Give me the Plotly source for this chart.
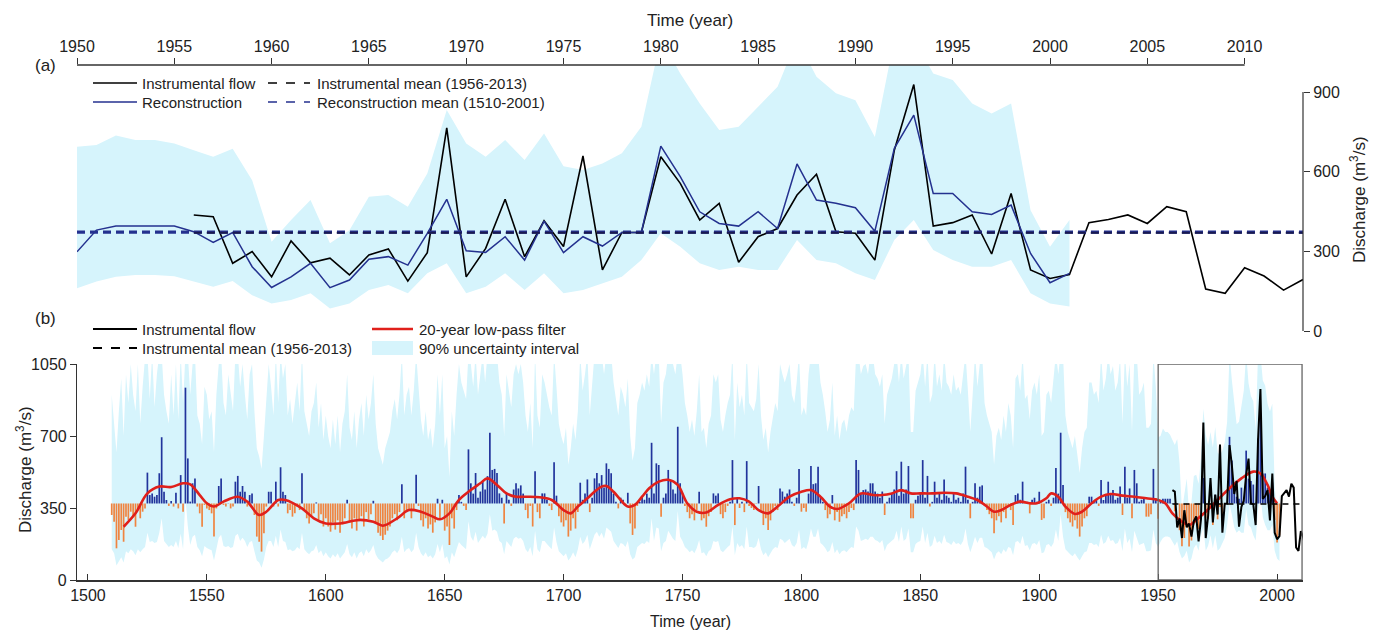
import plotly.graph_objects as go

# ---------------- data ----------------
recon_years = list(range(1510, 2002))
recon_hist = [  # 1510-1949
    316, 283, 154, 194, 243, 186, 308, 292, 332, 308,
    259, 340, 300, 332, 348, 522, 413, 421, 405, 413,
    519, 694, 429, 389, 360, 384, 357, 424, 348, 510,
    332, 935, 591, 381, 470, 494, 357, 324, 259, 365,
    348, 340, 324, 211, 348, 457, 494, 365, 357, 373,
    348, 357, 478, 506, 429, 457, 429, 357, 413, 421,
    316, 211, 186, 138, 227, 357, 429, 429, 357, 478,
    357, 548, 429, 413, 324, 340, 308, 324, 357, 340,
    519, 340, 300, 275, 308, 324, 377, 290, 320, 260,
    300, 260, 235, 280, 245, 290, 230, 270, 300, 390,
    280, 250, 300, 240, 285, 310, 260, 330, 295, 320,
    385, 280, 230, 215, 194, 220, 240, 260, 300, 320,
    290, 330, 465, 300, 330, 345, 300, 340, 512, 360,
    290, 260, 300, 250, 270, 230, 280, 395, 300, 390,
    240, 260, 170, 300, 250, 340, 413, 380, 360, 340,
    635, 470, 420, 520, 400, 430, 478, 440, 505, 716,
    535, 540, 520, 421, 400, 275, 421, 390, 360, 440,
    470, 445, 460, 420, 340, 300, 360, 260, 529, 330,
    300, 421, 421, 390, 360, 340, 572, 410, 310, 280,
    260, 290, 211, 240, 300, 250, 330, 473, 390, 420,
    489, 330, 400, 494, 520, 470, 510, 450, 567, 540,
    519, 420, 380, 348, 400, 390, 360, 424, 275, 219,
    250, 360, 380, 400, 390, 420, 400, 667, 420, 567,
    559, 308, 400, 420, 535, 486, 440, 420, 745, 470,
    420, 360, 330, 300, 320, 290, 340, 429, 290, 300,
    259, 310, 330, 421, 410, 421, 320, 300, 330, 360,
    380, 583, 267, 400, 350, 380, 330, 578, 360, 350,
    340, 370, 457, 330, 267, 300, 243, 290, 330, 360,
    340, 445, 430, 405, 420, 440, 380, 360, 400, 540,
    332, 350, 332, 420, 554, 466, 470, 551, 400, 380,
    340, 300, 320, 413, 290, 330, 283, 310, 320, 300,
    330, 350, 340, 583, 535, 420, 437, 440, 430, 470,
    470, 430, 420, 400, 430, 316, 380, 400, 420, 440,
    529, 410, 575, 420, 440, 554, 300, 300, 390, 410,
    420, 583, 400, 506, 357, 380, 478, 400, 420, 390,
    489, 410, 400, 380, 420, 390, 400, 380, 420, 551,
    390, 300, 380, 470, 400, 454, 460, 360, 340, 320,
    300, 227, 290, 310, 280, 330, 300, 360, 340, 267,
    413, 420, 390, 478, 370, 380, 324, 390, 400, 380,
    429, 292, 300, 380, 390, 360, 400, 545, 420, 716,
    462, 330, 300, 280, 260, 290, 250, 211, 260, 300,
    310, 405, 405, 380, 390, 360, 486, 389, 415, 478,
    420, 437, 390, 400, 454, 316, 551, 400, 445, 300,
    535, 470, 380, 390, 400, 308, 308, 320, 540, 397,
]
recon_recent = [  # 1950-2001
    298, 380, 395, 395, 395, 395, 374, 334, 371, 242,
    164, 204, 255, 163, 192, 270, 280, 248, 368, 496,
    302, 296, 355, 267, 414, 295, 355, 320, 371, 371,
    696, 581, 449, 405, 395, 449, 386, 629, 493, 481,
    464, 376, 688, 813, 518, 518, 449, 439, 474, 292,
    182, 217,
]
band_up_hist = [  # 1510-1949
    900, 760, 620, 820, 980, 700, 1000, 860, 1050, 900,
    820, 1050, 760, 940, 1080, 1100, 880, 1100, 840, 1000,
    1100, 1100, 900, 820, 760, 1000, 800, 1050, 780, 1100,
    860, 1100, 1100, 900, 1050, 1100, 800, 760, 660, 940,
    900, 780, 820, 620, 900, 1050, 1100, 860, 800, 1000,
    900, 820, 1100, 1100, 940, 1050, 900, 780, 1000, 1050,
    820, 640, 600, 540, 700, 900, 1050, 940, 800, 1100,
    860, 1100, 980, 1050, 800, 880, 760, 860, 960, 820,
    1100, 820, 760, 700, 820, 860, 960, 740, 860, 680,
    800, 700, 640, 780, 660, 800, 620, 760, 820, 1000,
    740, 680, 820, 640, 780, 860, 700, 900, 780, 860,
    1000, 760, 640, 600, 560, 640, 680, 720, 820, 880,
    780, 900, 1100, 800, 900, 940, 800, 920, 1100, 940,
    780, 700, 820, 680, 740, 640, 760, 1000, 800, 1000,
    640, 700, 500, 820, 700, 900, 1050, 960, 920, 880,
    1100, 1050, 940, 1100, 900, 1000, 1100, 960, 1100, 1100,
    1100, 1100, 1100, 960, 900, 700, 1000, 920, 840, 1000,
    1050, 1000, 1050, 960, 800, 720, 860, 640, 1100, 800,
    740, 1000, 960, 900, 840, 800, 1100, 940, 760, 700,
    660, 740, 560, 640, 760, 680, 820, 1100, 920, 1000,
    1100, 800, 940, 1100, 1100, 1050, 1100, 1000, 1100, 1100,
    1100, 960, 880, 800, 940, 900, 840, 980, 700, 580,
    640, 860, 900, 960, 920, 1000, 940, 1100, 1000, 1100,
    1100, 760, 960, 1000, 1100, 1100, 1050, 1000, 1100, 1100,
    1000, 860, 800, 720, 780, 700, 820, 1000, 720, 740,
    640, 760, 800, 1000, 960, 1000, 780, 720, 800, 860,
    900, 1100, 680, 960, 840, 900, 800, 1100, 860, 840,
    820, 880, 1050, 800, 680, 740, 620, 720, 800, 860,
    820, 1050, 1000, 960, 1000, 1050, 900, 860, 960, 1100,
    800, 840, 800, 1000, 1100, 1050, 1100, 1100, 960, 900,
    820, 720, 780, 960, 700, 800, 680, 760, 780, 720,
    800, 840, 820, 1100, 1100, 1000, 1040, 1050, 1000, 1100,
    1100, 1000, 980, 940, 1000, 760, 900, 940, 980, 1050,
    1100, 960, 1100, 980, 1050, 1100, 720, 720, 920, 960,
    1000, 1100, 940, 1100, 860, 900, 1100, 940, 1000, 920,
    1100, 960, 940, 900, 1000, 920, 940, 900, 1000, 1100,
    920, 720, 900, 1100, 940, 1050, 1100, 860, 800, 760,
    720, 560, 700, 740, 680, 800, 720, 860, 800, 640,
    980, 1000, 920, 1100, 880, 900, 780, 920, 960, 900,
    1000, 700, 720, 900, 920, 860, 960, 1100, 1000, 1100,
    1100, 800, 720, 680, 640, 700, 600, 520, 640, 720,
    740, 960, 960, 900, 920, 860, 1100, 920, 980, 1100,
    1000, 1040, 920, 960, 1080, 760, 1100, 940, 1050, 720,
    1100, 1100, 900, 920, 960, 740, 740, 760, 1100, 940,
]
band_lo_hist = [  # 1510-1949
    150, 130, 70, 90, 110, 85, 140, 130, 150, 140,
    120, 150, 135, 150, 160, 230, 185, 190, 180, 185,
    230, 300, 190, 175, 160, 170, 160, 190, 155, 225,
    150, 400, 260, 170, 210, 220, 160, 145, 115, 165,
    155, 150, 145, 95, 155, 205, 220, 165, 160, 165,
    155, 160, 215, 225, 190, 205, 190, 160, 185, 190,
    140, 95, 85, 60, 100, 160, 190, 190, 160, 215,
    160, 245, 190, 185, 145, 150, 140, 145, 160, 150,
    230, 150, 135, 125, 140, 145, 170, 130, 145, 115,
    135, 115, 105, 125, 110, 130, 105, 120, 135, 175,
    125, 110, 135, 105, 130, 140, 115, 150, 130, 145,
    170, 125, 105, 95, 85, 100, 105, 115, 135, 145,
    130, 150, 210, 135, 150, 155, 135, 150, 230, 160,
    130, 115, 135, 110, 120, 105, 125, 175, 135, 175,
    105, 115, 75, 135, 110, 150, 185, 170, 160, 150,
    285, 210, 190, 235, 180, 195, 215, 200, 225, 320,
    240, 245, 235, 190, 180, 125, 190, 175, 160, 200,
    210, 200, 205, 190, 150, 135, 160, 115, 240, 150,
    135, 190, 190, 175, 160, 150, 255, 185, 140, 125,
    115, 130, 95, 110, 135, 110, 150, 210, 175, 190,
    220, 150, 180, 220, 235, 210, 230, 200, 255, 245,
    235, 190, 170, 155, 180, 175, 160, 190, 125, 100,
    110, 160, 170, 180, 175, 190, 180, 300, 190, 255,
    250, 140, 180, 190, 240, 220, 200, 190, 335, 210,
    190, 160, 150, 135, 145, 130, 155, 195, 130, 135,
    115, 140, 150, 190, 185, 190, 145, 135, 150, 160,
    170, 260, 120, 180, 160, 170, 150, 260, 160, 160,
    155, 165, 205, 150, 120, 135, 110, 130, 150, 160,
    155, 200, 195, 180, 190, 200, 170, 160, 180, 245,
    150, 160, 150, 190, 250, 210, 210, 250, 180, 170,
    155, 135, 145, 185, 130, 150, 125, 140, 145, 135,
    150, 160, 155, 260, 240, 190, 195, 200, 195, 210,
    210, 195, 190, 180, 195, 140, 170, 180, 190, 200,
    240, 185, 260, 190, 200, 250, 135, 135, 175, 185,
    190, 260, 180, 230, 160, 170, 215, 180, 190, 175,
    220, 185, 180, 170, 190, 175, 180, 170, 190, 250,
    175, 135, 170, 210, 180, 205, 205, 160, 155, 145,
    135, 100, 130, 140, 125, 150, 135, 160, 155, 120,
    185, 190, 175, 215, 165, 170, 145, 175, 180, 170,
    195, 130, 135, 170, 175, 160, 180, 245, 190, 320,
    210, 150, 135, 125, 115, 130, 110, 95, 115, 135,
    140, 180, 180, 170, 175, 160, 220, 175, 185, 215,
    190, 195, 175, 180, 205, 140, 250, 180, 200, 135,
    240, 210, 170, 175, 180, 140, 140, 145, 245, 180,
]
band_up_recent = [  # 1950-2001
    694, 700, 736, 719, 719, 706, 681, 656, 686, 568,
    336, 418, 493, 330, 379, 506, 512, 468, 593, 832,
    706, 656, 719, 644, 744, 620, 606, 631, 669, 769,
    1100, 970, 857, 757, 769, 844, 920, 1100, 957, 895,
    869, 731, 1100, 1100, 970, 945, 857, 819, 857, 455,
    317, 418,
]
band_lo_recent = [  # 1950-2001
    161, 186, 204, 211, 211, 206, 186, 167, 188, 135,
    104, 117, 142, 85, 104, 154, 173, 142, 217, 255,
    142, 167, 217, 154, 217, 142, 154, 180, 204, 267,
    368, 317, 255, 230, 242, 230, 230, 343, 267, 255,
    217, 192, 343, 418, 305, 267, 242, 242, 267, 142,
    104, 92,
]
inst_years = list(range(1956, 2014))
inst_flow = [
    437, 430, 255, 299, 204, 339, 257, 274, 211, 286,
    309, 188, 295, 765, 204, 311, 496, 280, 415, 318,
    659, 230, 371, 371, 656, 556, 418, 481, 259, 355,
    386, 512, 590, 374, 368, 267, 681, 928, 395, 408,
    437, 290, 518, 230, 198, 213, 408, 420, 437, 405,
    468, 449, 158, 142, 238, 207, 154, 194,
]
filt_years = [1515, 1520, 1525, 1530, 1535, 1540, 1543, 1547, 1550, 1553, 1557, 1563, 1567,
              1572, 1575, 1580, 1583, 1590, 1595, 1600, 1606, 1614, 1620, 1624, 1630, 1635,
              1640, 1645, 1648, 1652, 1656, 1660, 1665, 1668, 1672, 1676, 1680, 1685, 1690,
              1695, 1700, 1703, 1706, 1710, 1713, 1716, 1718, 1721, 1724, 1727, 1730, 1733,
              1736, 1740, 1744, 1748, 1752, 1756, 1760, 1765, 1770, 1774, 1778, 1782, 1786,
              1790, 1795, 1800, 1804, 1808, 1812, 1815, 1820, 1825, 1830, 1834, 1838, 1842,
              1846, 1850, 1855, 1860, 1865, 1870, 1874, 1878, 1881, 1884, 1888, 1892, 1896,
              1899, 1903, 1905, 1908, 1911, 1915, 1918, 1922, 1926, 1930, 1935, 1940, 1945,
              1950, 1953, 1956, 1960, 1963, 1966, 1970, 1975, 1980, 1985, 1990, 1993, 1996,
              1998, 2000]
filt_vals = [259, 324, 421, 454, 452, 470, 465, 413, 373, 357, 381, 405, 381,
             316, 332, 389, 389, 348, 300, 275, 275, 292, 283, 264, 300, 340,
             332, 308, 295, 324, 389, 429, 470, 494, 462, 421, 405, 405, 402,
             389, 340, 324, 357, 397, 429, 454, 457, 429, 389, 357, 365, 405,
             446, 478, 487, 462, 373, 332, 328, 365, 392, 397, 381, 340, 324,
             357, 405, 429, 437, 405, 357, 345, 373, 421, 413, 413, 421, 437,
             421, 421, 421, 424, 421, 405, 389, 357, 332, 340, 365, 381, 373,
             373, 397, 421, 405, 357, 321, 332, 373, 405, 418, 410, 405, 397,
             389, 373, 324, 284, 267, 292, 332, 389, 446, 494, 527, 518, 462,
             405, 373]
top_years = list(range(1950, 2002))
inst_mean = 370
recon_mean = 372

# ---------------- derived ----------------
recon_all = recon_hist + recon_recent
band_up_all = band_up_hist + band_up_recent
band_lo_all = band_lo_hist + band_lo_recent


def stems(sign):
    xs, ys = [], []
    for yr, v in zip(recon_years, recon_all):
        if (v >= recon_mean) == sign:
            xs += [yr, yr, None]
            ys += [recon_mean, v, None]
    return xs, ys


pos_x, pos_y = stems(True)
neg_x, neg_y = stems(False)

BAND = "#d6f4fc"
NAVY = "#24318f"
BLUEBAR = "#22349c"
ORANGE = "#ef8440"
RED = "#e0201b"
FONT = "Liberation Sans, Arial, sans-serif"

fig = go.Figure()

# ---- panel (b) ----
fig.add_trace(go.Scatter(x=recon_years, y=band_lo_all, xaxis="x", yaxis="y", mode="lines",
                         line=dict(width=0, color=BAND), showlegend=False, hoverinfo="skip"))
fig.add_trace(go.Scatter(x=recon_years, y=band_up_all, xaxis="x", yaxis="y", mode="lines",
                         line=dict(width=0, color=BAND), fill="tonexty", fillcolor=BAND,
                         showlegend=False, hoverinfo="skip"))
fig.add_trace(go.Scatter(x=pos_x, y=pos_y, xaxis="x", yaxis="y", mode="lines",
                         line=dict(color=BLUEBAR, width=1.7), showlegend=False))
fig.add_trace(go.Scatter(x=neg_x, y=neg_y, xaxis="x", yaxis="y", mode="lines",
                         line=dict(color=ORANGE, width=1.7), showlegend=False))
fig.add_trace(go.Scatter(x=filt_years, y=filt_vals, xaxis="x", yaxis="y", mode="lines",
                         line=dict(color=RED, width=2.6, shape="spline", smoothing=1.0),
                         showlegend=False))
fig.add_trace(go.Scatter(x=inst_years, y=inst_flow, xaxis="x", yaxis="y", mode="lines",
                         line=dict(color="black", width=2), showlegend=False))
fig.add_trace(go.Scatter(x=[inst_years[0], inst_years[-1]], y=[inst_mean, inst_mean],
                         xaxis="x", yaxis="y", mode="lines",
                         line=dict(color="black", width=1.5, dash="6px,5px"), showlegend=False))

# ---- panel (a) ----
fig.add_trace(go.Scatter(x=top_years, y=band_lo_recent, xaxis="x2", yaxis="y2", mode="lines",
                         line=dict(width=0, color=BAND), showlegend=False, hoverinfo="skip"))
fig.add_trace(go.Scatter(x=top_years, y=band_up_recent, xaxis="x2", yaxis="y2", mode="lines",
                         line=dict(width=0, color=BAND), fill="tonexty", fillcolor=BAND,
                         showlegend=False, hoverinfo="skip"))
fig.add_trace(go.Scatter(x=inst_years, y=inst_flow, xaxis="x2", yaxis="y2", mode="lines",
                         line=dict(color="black", width=1.6), showlegend=False))
fig.add_trace(go.Scatter(x=top_years, y=recon_recent, xaxis="x2", yaxis="y2", mode="lines",
                         line=dict(color=NAVY, width=1.5), showlegend=False))
fig.add_trace(go.Scatter(x=[1950, 2013], y=[recon_mean, recon_mean], xaxis="x2", yaxis="y2",
                         mode="lines", line=dict(color=NAVY, width=3.2, dash="8px,5px"),
                         showlegend=False))
fig.add_trace(go.Scatter(x=[inst_years[0], inst_years[-1]], y=[inst_mean, inst_mean],
                         xaxis="x2", yaxis="y2", mode="lines",
                         line=dict(color="#1a1a50", width=2.0, dash="8px,5px"), showlegend=False))

# page body adds an 8px offset; layout below is expressed in screen pixels
OFF = 8
W, H = 1367, 623
L, T = 77 - OFF, 65 - OFF
R = W - (1303 - OFF)
B = H - (580 - OFF)
PW, PH = W - L - R, H - T - B


def X(px):
    return (px - OFF - L) / PW


def Y(py):
    return (H - B - (py - OFF)) / PH


axis_common = dict(showgrid=False, zeroline=False, ticks="outside", ticklen=6,
                   tickcolor="#333", tickfont=dict(size=16, color="#222", family=FONT))

fig.update_layout(
    width=W, height=H, margin=dict(l=L, r=R, t=T, b=B),
    paper_bgcolor="white", plot_bgcolor="rgba(0,0,0,0)",
    font=dict(family=FONT, color="#222"),
    showlegend=False,
    xaxis=dict(axis_common, domain=[0, 1], anchor="y", range=[1495.4, 2010.9],
               tickvals=list(range(1500, 2001, 50)), ticks="inside",
               showline=True, linecolor="#333", linewidth=1.5),
    yaxis=dict(axis_common, domain=[0, Y(364)], anchor="x", range=[0, 1050],
               tickvals=[0, 350, 700, 1050], showline=True, linecolor="#333", linewidth=1.2),
    xaxis2=dict(axis_common, domain=[0, 1], anchor="y2", side="top", range=[1950, 2013],
                tickvals=list(range(1950, 2011, 5)), showline=False),
    yaxis2=dict(axis_common, domain=[Y(331), 1], anchor="x2", side="right",
                range=[0, (331 - 65) / (239 / 900)], tickvals=[0, 300, 600, 900],
                showline=False),
)

shapes = []
shapes.append(dict(type="line", xref="x2", yref="paper", x0=1950, x1=2010, y0=1, y1=1,
                   line=dict(color="#333", width=1.5)))
shapes.append(dict(type="line", xref="paper", yref="y2", x0=1, x1=1, y0=0, y1=900,
                   line=dict(color="#333", width=1.2)))
shapes.append(dict(type="rect", xref="x", yref="y", x0=1950, x1=2010.5, y0=0, y1=1050,
                   line=dict(color="#666", width=1.3)))


def legend_line(x0, x1, py, color, width, dash="solid"):
    shapes.append(dict(type="line", xref="paper", yref="paper", x0=X(x0), x1=X(x1),
                       y0=Y(py), y1=Y(py), line=dict(color=color, width=width, dash=dash)))


annotations = []


def text(px, py, s, size=15, xanchor="left", angle=0):
    annotations.append(dict(xref="paper", yref="paper", x=X(px), y=Y(py), text=s,
                            showarrow=False, xanchor=xanchor, yanchor="middle",
                            textangle=angle, font=dict(size=size, color="#222", family=FONT)))


# legend (a)
legend_line(93, 137, 83, "black", 1.6)
text(140, 83, "Instrumental flow")
legend_line(268, 310, 83, "black", 1.6, "dash")
text(315, 83, "Instrumental mean (1956-2013)")
legend_line(93, 137, 102, NAVY, 1.6)
text(140, 102, "Reconstruction")
legend_line(268, 310, 102, NAVY, 1.6, "dash")
text(315, 102, "Reconstruction mean (1510-2001)")

# legend (b)
legend_line(93, 137, 329, "black", 1.8)
text(140, 329, "Instrumental flow")
legend_line(93, 137, 348, "black", 1.8, "dash")
text(140, 348, "Instrumental mean (1956-2013)")
legend_line(372, 413, 329, RED, 2.4)
text(417, 329, "20-year low-pass filter")
shapes.append(dict(type="rect", xref="paper", yref="paper", x0=X(372), x1=X(413),
                   y0=Y(355), y1=Y(341), fillcolor=BAND, line=dict(width=0)))
text(417, 348, "90% uncertainty interval")

# panel labels and axis titles
text(45, 66, "(a)", size=17, xanchor="center")
text(45, 318, "(b)", size=17, xanchor="center")
text(690, 20, "Time (year)", size=17, xanchor="center")
text(690, 621, "Time (year)", size=16, xanchor="center")
text(1358, 200, "Discharge (m<sup>3</sup>/s)", size=17, xanchor="center", angle=-90)
text(24, 470, "Discharge (m<sup>3</sup>/s)", size=17, xanchor="center", angle=-90)

fig.update_layout(shapes=shapes, annotations=annotations)
fig.write_html("out.html")
